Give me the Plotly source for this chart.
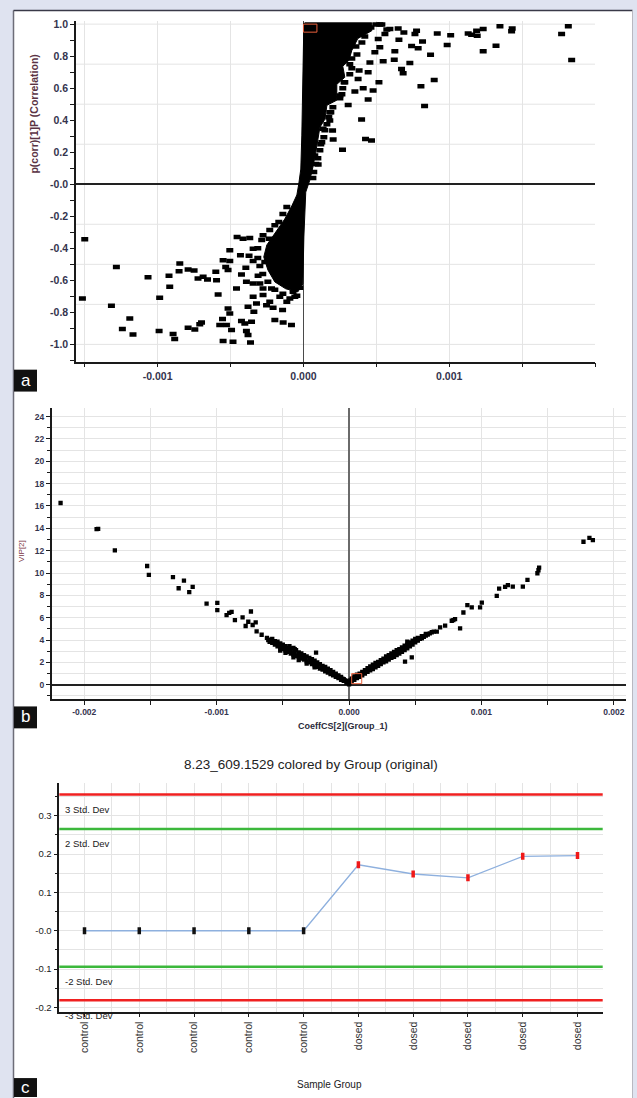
import plotly.graph_objects as go

W, H = 637, 1098


def fx(px):
    return px / W


def fy(py):
    return 1 - py / H


# ---------------- Panel a : S-plot (p[1] vs p(corr)[1]) ----------------
# scattered points (coefficient, correlation)
a_points = [
    (-1.500e-3, -0.343), (-1.516e-3, -0.713), (-1.283e-3, -0.516), (-1.317e-3, -0.759),
    (-1.191e-3, -0.838), (-1.242e-3, -0.904), (-1.169e-3, -0.938), (-1.066e-3, -0.580),
    (-0.986e-3, -0.709), (-0.990e-3, -0.917), (-0.922e-3, -0.572), (-0.917e-3, -0.640),
    (-0.894e-3, -0.935), (-0.883e-3, -0.966), (-0.848e-3, -0.495), (-0.853e-3, -0.543),
    (-0.791e-3, -0.533), (-0.750e-3, -0.539), (-0.791e-3, -0.896), (-0.745e-3, -0.907),
    (-0.711e-3, -0.875), (-0.699e-3, -0.863), (-0.723e-3, -0.589), (-0.688e-3, -0.578),
    (-0.658e-3, -0.595), (-0.601e-3, -0.547), (-0.596e-3, -0.599), (-0.585e-3, -0.688),
    (-0.551e-3, -0.474), (-0.533e-3, -0.516), (-0.505e-3, -0.412), (-0.505e-3, -0.480),
    (-0.517e-3, -0.536), (-0.517e-3, -0.776), (-0.505e-3, -0.807), (-0.555e-3, -0.842),
    (-0.551e-3, -0.979), (-0.483e-3, -0.983), (-0.574e-3, -0.879), (-0.528e-3, -0.879),
    (-0.493e-3, -0.910), (-0.459e-3, -0.651), (-0.455e-3, -0.329), (-0.414e-3, -0.340),
    (-0.368e-3, -0.335), (-0.432e-3, -0.443), (-0.373e-3, -0.447), (-0.395e-3, -0.522),
    (-0.425e-3, -0.564), (-0.391e-3, -0.609), (-0.345e-3, -0.480), (-0.311e-3, -0.572),
    (-0.345e-3, -0.620), (-0.380e-3, -0.765), (-0.425e-3, -0.854), (-0.402e-3, -0.869),
    (-0.380e-3, -0.941), (-0.363e-3, -0.988), (-0.391e-3, -0.917), (-0.356e-3, -0.859),
    (-0.345e-3, -0.703), (-0.322e-3, -0.745), (-0.340e-3, -0.796), (-0.277e-3, -0.692),
    (-0.253e-3, -0.755), (-0.231e-3, -0.734), (-0.196e-3, -0.848), (-0.139e-3, -0.863),
    (-0.082e-3, -0.879), (-0.208e-3, -0.771), (-0.143e-3, -0.786), (-0.093e-3, -0.713),
    (-0.071e-3, -0.672), (-0.219e-3, -0.651), (-0.277e-3, -0.651), (-0.299e-3, -0.620),
    (-0.265e-3, -0.485), (-0.235e-3, -0.340), (-0.196e-3, -0.256), (-0.277e-3, -0.318),
    (-0.345e-3, -0.402), (-0.114e-3, -0.734), (-0.059e-3, -0.703), (-0.162e-3, -0.703),
    # ragged edge of the lower dense region
    (-0.114e-3, -0.142), (-0.141e-3, -0.186), (-0.169e-3, -0.235), (-0.231e-3, -0.285),
    (-0.286e-3, -0.348), (-0.313e-3, -0.399), (-0.313e-3, -0.460), (-0.299e-3, -0.510),
    (-0.279e-3, -0.560), (-0.244e-3, -0.609), (-0.196e-3, -0.659), (-0.141e-3, -0.684),
    (-0.045e-3, -0.697), (-0.025e-3, -0.647),
    # upper-right scatter
    (1.817e-3, 0.986), (1.771e-3, 0.938), (1.840e-3, 0.776), (1.432e-3, 0.973),
    (1.428e-3, 0.955), (1.348e-3, 0.986), (1.321e-3, 0.865), (1.233e-3, 0.830),
    (1.233e-3, 0.969), (1.188e-3, 0.959), (1.192e-3, 0.928), (1.130e-3, 0.942),
    (1.154e-3, 0.934), (1.010e-3, 0.931), (0.986e-3, 0.869), (0.918e-3, 0.942),
    (0.872e-3, 0.809), (0.897e-3, 0.651), (0.806e-3, 0.612), (0.831e-3, 0.489),
    (0.776e-3, 0.959), (0.765e-3, 0.938), (0.817e-3, 0.892), (0.742e-3, 0.863),
    (0.787e-3, 0.850), (0.730e-3, 0.757), (0.673e-3, 0.720), (0.684e-3, 0.693),
    (0.689e-3, 0.948), (0.650e-3, 0.973), (0.655e-3, 0.903), (0.627e-3, 0.830),
    (0.623e-3, 0.778), (0.593e-3, 0.969), (0.547e-3, 0.768), (0.524e-3, 0.855),
    (0.518e-3, 0.637), (0.478e-3, 0.585), (0.444e-3, 0.529), (0.467e-3, 0.274),
    (0.426e-3, 0.283), (0.399e-3, 0.404), (0.268e-3, 0.215), (0.204e-3, 0.280),
    (0.200e-3, 0.336), (0.307e-3, 0.495), (0.353e-3, 0.579), (0.410e-3, 0.599),
    (0.375e-3, 0.657), (0.382e-3, 0.710), (0.444e-3, 0.699), (0.456e-3, 0.761),
    (0.490e-3, 0.824), (0.513e-3, 0.907), (0.463e-3, 0.979), (0.559e-3, 0.938),
    (0.279e-3, 0.637), (0.250e-3, 0.554), (0.181e-3, 0.398), (0.135e-3, 0.346),
    (0.101e-3, 0.124), (0.078e-3, 0.180), (0.524e-3, 0.998), (0.572e-3, 0.967),
    (0.250e-3, 0.917), (0.332e-3, 0.873), (0.291e-3, 0.792), (0.181e-3, 0.450),
    (0.126e-3, 0.263),
    # ragged edge of the upper dense band
    (0.497e-3, 0.998), (0.538e-3, 0.998), (0.428e-3, 0.973), (0.421e-3, 0.923),
    (0.401e-3, 0.886), (0.360e-3, 0.861), (0.367e-3, 0.811), (0.332e-3, 0.786),
    (0.318e-3, 0.749), (0.332e-3, 0.724), (0.318e-3, 0.687), (0.284e-3, 0.637),
    (0.270e-3, 0.599), (0.264e-3, 0.562), (0.250e-3, 0.537), (0.202e-3, 0.481),
    (0.188e-3, 0.450), (0.174e-3, 0.419), (0.161e-3, 0.375), (0.147e-3, 0.338),
    (0.140e-3, 0.294), (0.119e-3, 0.250), (0.113e-3, 0.213), (0.099e-3, 0.163),
    (0.085e-3, 0.126), (0.071e-3, 0.076), (0.065e-3, 0.039),
]
# outline of the fully over-plotted (solid black) core of the point cloud
a_core = [
    (0.010e-3, 1.008), (0.469e-3, 1.008), (0.469e-3, 0.959), (0.373e-3, 0.910),
    (0.332e-3, 0.836), (0.312e-3, 0.774), (0.270e-3, 0.737), (0.284e-3, 0.668),
    (0.229e-3, 0.624), (0.229e-3, 0.525), (0.161e-3, 0.493), (0.147e-3, 0.406),
    (0.113e-3, 0.356), (0.099e-3, 0.263), (0.085e-3, 0.201), (0.065e-3, 0.107),
    (0.044e-3, 0.026), (0.016e-3, -0.049), (0.010e-3, -0.142), (0.003e-3, -0.329),
    (-0.004e-3, -0.622), (-0.038e-3, -0.672), (-0.121e-3, -0.653), (-0.196e-3, -0.610),
    (-0.244e-3, -0.535), (-0.272e-3, -0.454), (-0.251e-3, -0.379), (-0.189e-3, -0.298),
    (-0.128e-3, -0.217), (-0.080e-3, -0.136), (-0.045e-3, -0.067), (-0.032e-3, 0.001),
    (-0.018e-3, 0.095), (-0.011e-3, 0.307), (-0.004e-3, 0.718), (0.003e-3, 1.008),
]
a_xticks = [-0.001, 0.0, 0.001]
a_xticktext = ["-0.001", "0.000", "0.001"]
a_yticks = [-1.0, -0.8, -0.6, -0.4, -0.2, 0.0, 0.2, 0.4, 0.6, 0.8, 1.0]
a_yticktext = ["-1.0", "-0.8", "-0.6", "-0.4", "-0.2", "-0.0", "0.2", "0.4", "0.6", "0.8", "1.0"]
a_hgrid = [-1.0, -0.75, -0.5, -0.25, 0.25, 0.5, 0.75, 1.0]
a_selection = [0.0, 0.0000926, 0.95, 1.0]

# ---------------- Panel b : VIP vs CoeffCS ----------------
b_points = [
    (-2.179e-3, 16.27), (-1.907e-3, 13.93), (-1.895e-3, 13.95), (-1.769e-3, 12.03),
    (-1.525e-3, 10.63), (-1.512e-3, 9.83), (-1.330e-3, 9.63), (-1.287e-3, 8.64),
    (-1.247e-3, 9.32), (-1.207e-3, 8.29), (-1.181e-3, 8.76), (-1.076e-3, 7.27),
    (-0.995e-3, 7.33), (-0.995e-3, 6.68), (-0.925e-3, 6.24), (-0.905e-3, 6.44),
    (-0.887e-3, 6.53), (-0.862e-3, 5.79), (-0.804e-3, 6.03), (-0.781e-3, 5.26),
    (-0.761e-3, 5.64), (-0.741e-3, 6.56), (-0.728e-3, 5.35), (-0.705e-3, 5.58),
    (-0.698e-3, 4.78), (-0.660e-3, 4.48), (-0.249e-3, 2.88),
    (-0.62e-3, 4.2), (-0.60e-3, 4.05), (-0.60e-3, 3.85), (-0.58e-3, 4.1), (-0.58e-3, 3.75),
    (-0.56e-3, 3.9), (-0.56e-3, 3.6), (-0.54e-3, 3.85), (-0.54e-3, 3.45),
    (-0.52e-3, 3.7), (-0.52e-3, 3.35), (-0.52e-3, 3.05), (-0.50e-3, 3.6), (-0.50e-3, 3.2),
    (-0.48e-3, 3.45), (-0.48e-3, 3.05), (-0.48e-3, 2.85), (-0.46e-3, 3.3), (-0.46e-3, 2.95),
    (-0.44e-3, 3.25), (-0.44e-3, 2.8), (-0.44e-3, 3.0), (-0.42e-3, 3.3), (-0.42e-3, 2.7),
    (-0.42e-3, 2.45), (-0.40e-3, 3.1), (-0.40e-3, 2.6), (-0.38e-3, 2.9), (-0.38e-3, 2.5),
    (-0.38e-3, 2.2), (-0.36e-3, 2.8), (-0.36e-3, 2.35), (-0.34e-3, 2.65), (-0.34e-3, 2.25),
    (-0.32e-3, 2.55), (-0.32e-3, 2.1), (-0.32e-3, 1.9), (-0.30e-3, 2.4), (-0.30e-3, 2.0),
    (-0.28e-3, 2.3), (-0.28e-3, 1.85), (-0.26e-3, 2.15), (-0.26e-3, 1.75), (-0.26e-3, 1.55),
    (-0.24e-3, 2.0), (-0.24e-3, 1.6), (-0.22e-3, 1.85), (-0.22e-3, 1.45), (-0.20e-3, 1.7),
    (-0.20e-3, 1.35), (-0.18e-3, 1.6), (-0.18e-3, 1.2), (-0.16e-3, 1.45), (-0.16e-3, 1.1),
    (-0.14e-3, 1.3), (-0.14e-3, 0.95), (-0.12e-3, 1.15), (-0.12e-3, 0.85), (-0.10e-3, 1.0),
    (-0.10e-3, 0.7), (-0.08e-3, 0.85), (-0.08e-3, 0.6), (-0.06e-3, 0.7), (-0.06e-3, 0.45),
    (-0.04e-3, 0.5), (-0.04e-3, 0.35), (-0.02e-3, 0.35), (-0.02e-3, 0.2), (0.0, 0.15),
    (0.0, 0.05),
    (-0.61e-3, 4.0), (-0.57e-3, 3.8), (-0.53e-3, 3.55), (-0.49e-3, 3.3), (-0.45e-3, 3.1),
    (-0.41e-3, 2.85), (-0.37e-3, 2.6), (-0.33e-3, 2.35), (-0.29e-3, 2.15), (-0.25e-3, 1.85),
    (-0.21e-3, 1.55), (-0.17e-3, 1.35), (-0.13e-3, 1.05), (-0.09e-3, 0.8), (-0.05e-3, 0.55),
    (-0.01e-3, 0.25), (-0.45e-3, 3.45), (-0.41e-3, 3.2), (-0.35e-3, 2.55), (-0.27e-3, 2.05),
    (-0.19e-3, 1.45), (-0.11e-3, 0.95), (-0.03e-3, 0.4),
    (0.02e-3, 0.3), (0.02e-3, 0.55), (0.04e-3, 0.45), (0.04e-3, 0.75), (0.06e-3, 0.6),
    (0.06e-3, 0.9), (0.08e-3, 0.7), (0.08e-3, 1.0), (0.10e-3, 0.85), (0.10e-3, 1.15),
    (0.12e-3, 1.0), (0.12e-3, 1.3), (0.14e-3, 1.15), (0.14e-3, 1.5), (0.16e-3, 1.3),
    (0.16e-3, 1.65), (0.18e-3, 1.4), (0.18e-3, 1.8), (0.20e-3, 1.55), (0.20e-3, 1.95),
    (0.22e-3, 1.7), (0.22e-3, 2.05), (0.24e-3, 1.85), (0.24e-3, 2.2), (0.26e-3, 2.0),
    (0.26e-3, 2.35), (0.28e-3, 2.1), (0.28e-3, 2.55), (0.30e-3, 2.25), (0.30e-3, 2.65),
    (0.32e-3, 2.4), (0.32e-3, 2.8), (0.34e-3, 2.5), (0.34e-3, 2.95), (0.36e-3, 2.65),
    (0.36e-3, 3.1), (0.38e-3, 2.8), (0.38e-3, 3.2), (0.40e-3, 2.95), (0.40e-3, 3.35),
    (0.42e-3, 3.1), (0.42e-3, 3.5), (0.44e-3, 3.25), (0.44e-3, 3.6), (0.44e-3, 3.85),
    (0.46e-3, 3.45), (0.46e-3, 3.8), (0.48e-3, 3.6), (0.48e-3, 3.95), (0.50e-3, 3.8),
    (0.50e-3, 4.1), (0.52e-3, 3.95), (0.52e-3, 4.2), (0.55e-3, 4.15), (0.55e-3, 4.35),
    (0.58e-3, 4.4), (0.58e-3, 4.55), (0.61e-3, 4.6), (0.64e-3, 4.75),
    (0.01e-3, 0.4), (0.03e-3, 0.6), (0.05e-3, 0.7), (0.07e-3, 0.8), (0.09e-3, 0.95),
    (0.11e-3, 1.1), (0.13e-3, 1.25), (0.15e-3, 1.4), (0.17e-3, 1.55), (0.19e-3, 1.65),
    (0.21e-3, 1.8), (0.23e-3, 1.95), (0.25e-3, 2.1), (0.27e-3, 2.25), (0.29e-3, 2.4),
    (0.31e-3, 2.55), (0.33e-3, 2.65), (0.35e-3, 2.8), (0.37e-3, 2.95), (0.39e-3, 3.1),
    (0.41e-3, 3.2), (0.43e-3, 3.35), (0.45e-3, 3.6), (0.47e-3, 3.7), (0.49e-3, 3.85),
    (0.51e-3, 4.0), (0.535e-3, 4.1), (0.565e-3, 4.3), (0.595e-3, 4.5), (0.625e-3, 4.7),
    (0.423e-3, 2.08), (0.474e-3, 2.46), (0.663e-3, 4.75), (0.726e-3, 5.29),
    (0.776e-3, 5.73), (0.801e-3, 5.88), (0.688e-3, 5.13), (0.788e-3, 5.79),
    (0.839e-3, 5.04), (0.864e-3, 6.47), (0.894e-3, 7.13), (0.927e-3, 6.92),
    (0.990e-3, 6.92), (1.003e-3, 7.36), (1.116e-3, 7.96), (1.134e-3, 8.61),
    (1.179e-3, 8.76), (1.200e-3, 8.91), (1.237e-3, 8.79), (1.313e-3, 8.79),
    (1.348e-3, 9.39), (1.423e-3, 9.98), (1.431e-3, 10.25), (1.436e-3, 10.48),
    (1.771e-3, 12.80), (1.816e-3, 13.15), (1.842e-3, 12.95),
]
b_xticks = [-0.002, -0.001, 0.0, 0.001, 0.002]
b_xticktext = ["-0.002", "-0.001", "0.000", "0.001", "0.002"]
b_yticks = [0, 2, 4, 6, 8, 10, 12, 14, 16, 18, 20, 22, 24]
b_selection = [0.00002, 0.0000960, 0.1, 1.0]

# ---------------- Panel c : profile of 8.23_609.1529 ----------------
c_groups = ["control", "control", "control", "control", "control",
            "dosed", "dosed", "dosed", "dosed", "dosed"]
c_values = [0.0, 0.0, 0.0, 0.0, 0.0, 0.172, 0.148, 0.138, 0.194, 0.196]
c_colors = ["#111111"] * 5 + ["#f01818"] * 5
c_yticks = [-0.2, -0.1, 0.0, 0.1, 0.2, 0.3]
c_yticktext = ["-0.2", "-0.1", "-0.0", "0.1", "0.2", "0.3"]
std_labels = ["3 Std. Dev", "2 Std. Dev", "-2 Std. Dev", "-3 Std. Dev"]
std_values = [0.3556, 0.2655, -0.0938, -0.1813]
std_colors = ["#f02020", "#3cb83c", "#3cb83c", "#f02020"]

# ---------------- styles ----------------
SANS = "Liberation Sans, Arial, sans-serif"
NARROW = "Liberation Sans Narrow, Liberation Sans, sans-serif"
TICK_A = dict(family=SANS, size=10.5, color="#34344e", weight="bold")
TICK_B = dict(family=SANS, size=8.5, color="#34344e", weight="bold")
TICK_C = dict(family=NARROW, size=9.5, color="#1a1a1a")
GRID = "#e4e4e4"
AXC = "#1a1a1a"

fig = go.Figure()

# panel a traces
fig.add_trace(go.Scatter(
    x=[p[0] for p in a_core], y=[p[1] for p in a_core], xaxis="x", yaxis="y",
    mode="lines", fill="toself", fillcolor="#000000",
    line=dict(color="#000000", width=1), hoverinfo="skip"))
fig.add_trace(go.Scatter(
    x=[p[0] for p in a_points], y=[p[1] for p in a_points], xaxis="x", yaxis="y",
    mode="markers",
    marker=dict(symbol="line-ew", size=5, line=dict(width=4.5, color="#000000"))))

# panel b trace
fig.add_trace(go.Scatter(
    x=[p[0] for p in b_points], y=[p[1] for p in b_points], xaxis="x2", yaxis="y2",
    mode="markers",
    marker=dict(symbol="square", size=4.3, color="#000000", line=dict(width=0))))

# panel c trace
c_x = list(range(len(c_groups)))
fig.add_trace(go.Scatter(
    x=c_x, y=c_values, xaxis="x3", yaxis="y3", mode="lines+markers",
    line=dict(color="#8eb0de", width=1.3),
    marker=dict(symbol="line-ns", size=5, line=dict(width=3.5, color=c_colors))))

shapes = []
# white sheet + borders
shapes.append(dict(type="rect", xref="paper", yref="paper", x0=fx(13.5), x1=fx(632.5),
                   y0=-0.01, y1=fy(7.5), fillcolor="white", line=dict(width=0), layer="below"))
shapes.append(dict(type="line", xref="paper", yref="paper", x0=fx(13.5), x1=fx(13.5),
                   y0=-0.01, y1=fy(7.5), line=dict(color="#6d6d78", width=1.5), layer="below"))
shapes.append(dict(type="line", xref="paper", yref="paper", x0=fx(13.5), x1=fx(632.5),
                   y0=fy(7.5), y1=fy(7.5), line=dict(color="#3a3a48", width=1.5), layer="below"))
shapes.append(dict(type="line", xref="paper", yref="paper", x0=fx(632.5), x1=fx(632.5),
                   y0=-0.01, y1=fy(7.5), line=dict(color="#b8b8c0", width=1), layer="below"))
# panel a horizontal grid
for g in a_hgrid:
    shapes.append(dict(type="line", xref="x domain", yref="y", x0=0, x1=1, y0=g, y1=g,
                       line=dict(color=GRID, width=1), layer="below"))
# selection rectangles
shapes.append(dict(type="rect", xref="x", yref="y", x0=a_selection[0], x1=a_selection[1],
                   y0=a_selection[2], y1=a_selection[3], line=dict(color="#e8603c", width=1)))
shapes.append(dict(type="rect", xref="x2", yref="y2", x0=b_selection[0], x1=b_selection[1],
                   y0=b_selection[2], y1=b_selection[3], line=dict(color="#e8603c", width=1)))
# std dev lines
for v, col in zip(std_values, std_colors):
    shapes.append(dict(type="line", xref="x3 domain", yref="y3", x0=0, x1=1, y0=v, y1=v,
                       line=dict(color=col, width=2.5)))
# panel labels
label_boxes = (("a", 368, 390), ("b", 706, 728), ("c", 1079, 1098))
for lab, top, bot in label_boxes:
    shapes.append(dict(type="rect", xref="paper", yref="paper", x0=fx(14), x1=fx(37),
                       y0=fy(bot), y1=fy(top), fillcolor="#111111", line=dict(width=0)))

annotations = []


def ann(text, x, y, font, angle=0, xanchor="center", yanchor="middle", **kw):
    d = dict(text=text, xref="paper", yref="paper", x=x, y=y, showarrow=False, font=font,
             textangle=angle, xanchor=xanchor, yanchor=yanchor)
    d.update(kw)
    annotations.append(d)


for lab, top, bot in label_boxes:
    ann(lab, fx(25.5), fy((top + bot) / 2 - 0.5), dict(family=SANS, size=17, color="white"))
ann("p(corr)[1]P (Correlation)", fx(34), fy(112),
    dict(family=SANS, size=10.5, color="#5a3344", weight="bold"), angle=-90)
ann("VIP[2]", fx(22), fy(550), dict(family=SANS, size=8, color="#7a3344"), angle=-90)
ann("CoeffCS[2](Group_1)", fx(343), fy(726),
    dict(family=SANS, size=9, color="#2a2a3a", weight="bold"))
ann("8.23_609.1529 colored by Group (original)", fx(311), fy(764),
    dict(family=NARROW, size=13.5, color="#222222"))
ann("Sample Group", fx(330), fy(1085), dict(family=NARROW, size=10, color="#222222"))
for lab, v in zip(std_labels, std_values):
    annotations.append(dict(text=lab, xref="x3 domain", yref="y3", x=0.007, y=v,
                            xanchor="left", yanchor="middle", yshift=-15, showarrow=False,
                            font=dict(family=NARROW, size=9.5, color="#1a1a1a")))

common = dict(showline=True, linecolor=AXC, linewidth=1.5, ticks="outside", tickcolor=AXC,
              ticklen=4, tickwidth=1.2, mirror=False, tickmode="array")

fig.update_layout(
    width=W, height=H, autosize=False, margin=dict(l=0, r=0, t=0, b=0),
    paper_bgcolor="#dfe3f0", plot_bgcolor="white", showlegend=False,
    shapes=shapes, annotations=annotations,
    xaxis=dict(domain=[fx(76), fx(595)], range=[-0.00156, 0.002], anchor="y",
               tickvals=a_xticks, ticktext=a_xticktext, tickfont=TICK_A,
               showgrid=True, gridcolor=GRID,
               minor=dict(dtick=0.0005, tick0=0, ticks="outside", ticklen=4,
                          tickcolor=AXC, showgrid=True, gridcolor=GRID),
               zeroline=True, zerolinecolor="#4a4a4a", zerolinewidth=1, **common),
    yaxis=dict(domain=[fy(360), fy(18)], range=[-1.108, 1.02], anchor="x",
               tickvals=a_yticks, ticktext=a_yticktext, tickfont=TICK_A, showgrid=False,
               minor=dict(dtick=0.1, tick0=0, ticks="outside", ticklen=4, tickcolor=AXC,
                          showgrid=False),
               zeroline=True, zerolinecolor="#222222", zerolinewidth=1.5, **common),
    xaxis2=dict(domain=[fx(51.7), fx(625.7)], range=[-0.002246, 0.00209], anchor="y2",
                tickvals=b_xticks, ticktext=b_xticktext, tickfont=TICK_B,
                showgrid=True, gridcolor=GRID,
                minor=dict(dtick=0.0005, tick0=0, ticks="outside", ticklen=4,
                           tickcolor=AXC, showgrid=True, gridcolor=GRID),
                zeroline=True, zerolinecolor="#6a6a6a", zerolinewidth=2, **common),
    yaxis2=dict(domain=[fy(698.3), fy(406.7)], range=[-1.25, 24.75], anchor="x2",
                tickvals=b_yticks, ticktext=[str(v) for v in b_yticks], tickfont=TICK_B,
                showgrid=True, gridcolor=GRID,
                minor=dict(dtick=1, tick0=0, ticks="outside", ticklen=3, tickcolor=AXC,
                           showgrid=True, gridcolor=GRID),
                zeroline=True, zerolinecolor="#222222", zerolinewidth=1.5, **common),
    xaxis3=dict(domain=[fx(59.3), fx(602.7)], range=[-0.46, 9.46], anchor="y3",
                tickvals=c_x, ticktext=c_groups, tickangle=-90,
                tickfont=dict(family=SANS, size=10.5, color="#333333"),
                showgrid=True, gridcolor=GRID,
                minor=dict(dtick=0.5, tick0=0, ticks="", showgrid=True, gridcolor=GRID),
                zeroline=False, **common),
    yaxis3=dict(domain=[fy(1012.3), fy(783)], range=[-0.211, 0.385], anchor="x3",
                tickvals=c_yticks, ticktext=c_yticktext, tickfont=TICK_C,
                showgrid=True, gridcolor=GRID,
                minor=dict(dtick=0.05, tick0=0, ticks="outside", ticklen=3, tickcolor=AXC,
                           showgrid=True, gridcolor=GRID),
                zeroline=False, **common),
)

fig.write_html("out.html", config={"displayModeBar": False},
               post_script="document.body.style.margin='0';")
